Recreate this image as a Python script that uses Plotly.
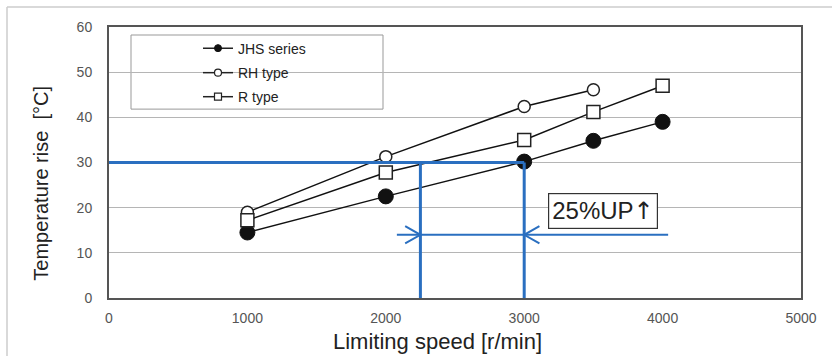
import plotly.graph_objects as go

speeds_jhs = [1000, 2000, 3000, 3500, 4000]
temp_jhs = [14.5, 22.5, 30.2, 34.8, 39.0]
speeds_rh = [1000, 2000, 3000, 3500]
temp_rh = [19.0, 31.3, 42.4, 46.1]
speeds_r = [1000, 2000, 3000, 3500, 4000]
temp_r = [17.2, 27.8, 35.0, 41.2, 47.0]

x_ticks = [0, 1000, 2000, 3000, 4000, 5000]
y_ticks = [0, 10, 20, 30, 40, 50, 60]

x_title = "Limiting speed [r/min]"
y_title = "Temperature rise&nbsp;&nbsp;[°C]"

ref_temp = 30
ref_speed_low = 2250
ref_speed_high = 3000
arrow_y = 14
arrow_x_start = 2080
arrow_x_end = 4040
label_text = "25%UP<span style='font-family:DejaVu Sans'>↑</span>"

BLUE = "#2a6fc0"
FONT = "Liberation Sans, Arial, sans-serif"

# plot area in pixels
PL, PR, PT, PB = 109, 801, 27, 297.6
W = PR - PL
H = PB - PT


def px(xp):
    return (xp - PL) / W


def py(yp):
    return (PB - yp) / H


fig = go.Figure()
line_style = dict(color="#111", width=1.5)
fig.add_trace(go.Scatter(x=speeds_jhs, y=temp_jhs, mode="lines+markers", name="JHS series",
                         line=line_style, showlegend=False,
                         marker=dict(symbol="circle", size=15, color="#111", line=dict(color="#111", width=1))))
fig.add_trace(go.Scatter(x=speeds_rh, y=temp_rh, mode="lines+markers", name="RH type",
                         line=line_style, showlegend=False,
                         marker=dict(symbol="circle", size=12, color="white", line=dict(color="#222", width=1.5))))
fig.add_trace(go.Scatter(x=speeds_r, y=temp_r, mode="lines+markers", name="R type",
                         line=line_style, showlegend=False,
                         marker=dict(symbol="square", size=13, color="white", line=dict(color="#222", width=1.5))))

# legend entries (small markers like the reference legend)
fig.add_trace(go.Scatter(x=[None], y=[None], mode="lines+markers", name="JHS series",
                         line=dict(color="#222", width=1.5), legend="legend",
                         marker=dict(symbol="circle", size=7, color="#111", line=dict(color="#111", width=1))))
fig.add_trace(go.Scatter(x=[None], y=[None], mode="lines+markers", name="RH type",
                         line=dict(color="#222", width=1.5), legend="legend2",
                         marker=dict(symbol="circle", size=7, color="white", line=dict(color="#222", width=1.2))))
fig.add_trace(go.Scatter(x=[None], y=[None], mode="lines+markers", name="R type",
                         line=dict(color="#222", width=1.5), legend="legend3",
                         marker=dict(symbol="square", size=7, color="white", line=dict(color="#222", width=1.2))))

shapes = []
# legend box
shapes.append(dict(type="rect", xref="paper", yref="paper",
                   x0=px(131), x1=px(383), y0=py(109), y1=py(35),
                   line=dict(color="#999", width=1), fillcolor="white", layer="below"))
# outer frame lines
shapes.append(dict(type="line", xref="paper", yref="paper",
                   x0=px(7), x1=px(840), y0=py(7), y1=py(7),
                   line=dict(color="#cccccc", width=1.5)))
shapes.append(dict(type="line", xref="paper", yref="paper",
                   x0=px(7), x1=px(7), y0=py(7), y1=py(370),
                   line=dict(color="#cccccc", width=1.5)))
# blue reference lines
shapes.append(dict(type="line", x0=0, x1=ref_speed_high, y0=ref_temp, y1=ref_temp,
                   line=dict(color=BLUE, width=3)))
shapes.append(dict(type="line", x0=ref_speed_low, x1=ref_speed_low, y0=0, y1=ref_temp,
                   line=dict(color=BLUE, width=3)))
shapes.append(dict(type="line", x0=ref_speed_high, x1=ref_speed_high, y0=0, y1=ref_temp,
                   line=dict(color=BLUE, width=3)))
shapes.append(dict(type="line", x0=arrow_x_start, x1=arrow_x_end, y0=arrow_y, y1=arrow_y,
                   line=dict(color=BLUE, width=2)))
# chevrons
dx, dy = 110, 1.9
shapes.append(dict(type="path",
                   path=f"M {ref_speed_low - dx} {arrow_y + dy} L {ref_speed_low} {arrow_y} L {ref_speed_low - dx} {arrow_y - dy}",
                   line=dict(color=BLUE, width=2)))
shapes.append(dict(type="path",
                   path=f"M {ref_speed_high + dx} {arrow_y + dy} L {ref_speed_high} {arrow_y} L {ref_speed_high + dx} {arrow_y - dy}",
                   line=dict(color=BLUE, width=2)))

annotations = [
    dict(x=3569, y=19.2, text=label_text, showarrow=False,
         font=dict(size=24, color="#222", family=FONT),
         bordercolor="#333", borderwidth=1.2, borderpad=3, bgcolor="white"),
    dict(xref="paper", yref="paper", x=px(437), y=py(341.5), text=x_title, showarrow=False,
         xanchor="center", yanchor="middle", font=dict(size=22, color="#222", family=FONT)),
    dict(xref="paper", yref="paper", x=px(41), y=py(183.5), text=y_title, showarrow=False,
         textangle=-90, xanchor="center", yanchor="middle", font=dict(size=20, color="#222", family=FONT)),
]

fig.update_layout(
    width=832, height=356,
    margin=dict(l=PL, r=832 - PR, t=PT, b=356 - PB),
    paper_bgcolor="white", plot_bgcolor="white",
    font=dict(family=FONT, color="#222"),
    showlegend=True,
    shapes=shapes,
    annotations=annotations,
    xaxis=dict(range=[0, 5000], tickvals=x_ticks, showgrid=False, zeroline=False,
               showline=True, linecolor="#555", linewidth=2, mirror=True,
               tickfont=dict(size=14, color="#555"), ticks="", ticklabelstandoff=6),
    yaxis=dict(range=[0, 60], tickvals=y_ticks, showgrid=True, gridcolor="#b5b5b5", gridwidth=1,
               zeroline=False, showline=True, linecolor="#555", linewidth=2, mirror=True,
               tickfont=dict(size=14, color="#555"), ticks="", ticklabelstandoff=12),
)
leg_common = dict(xref="paper", yref="paper", xanchor="left", yanchor="middle",
                  bgcolor="rgba(0,0,0,0)", borderwidth=0, font=dict(size=14, color="#222", family=FONT))
fig.update_layout(
    legend=dict(x=px(198), y=py(48.5), **leg_common),
    legend2=dict(x=px(198), y=py(73), **leg_common),
    legend3=dict(x=px(198), y=py(97), **leg_common),
)
fig.write_html("out.html", config={"displayModeBar": False},
               post_script="document.body.style.margin='0';")
